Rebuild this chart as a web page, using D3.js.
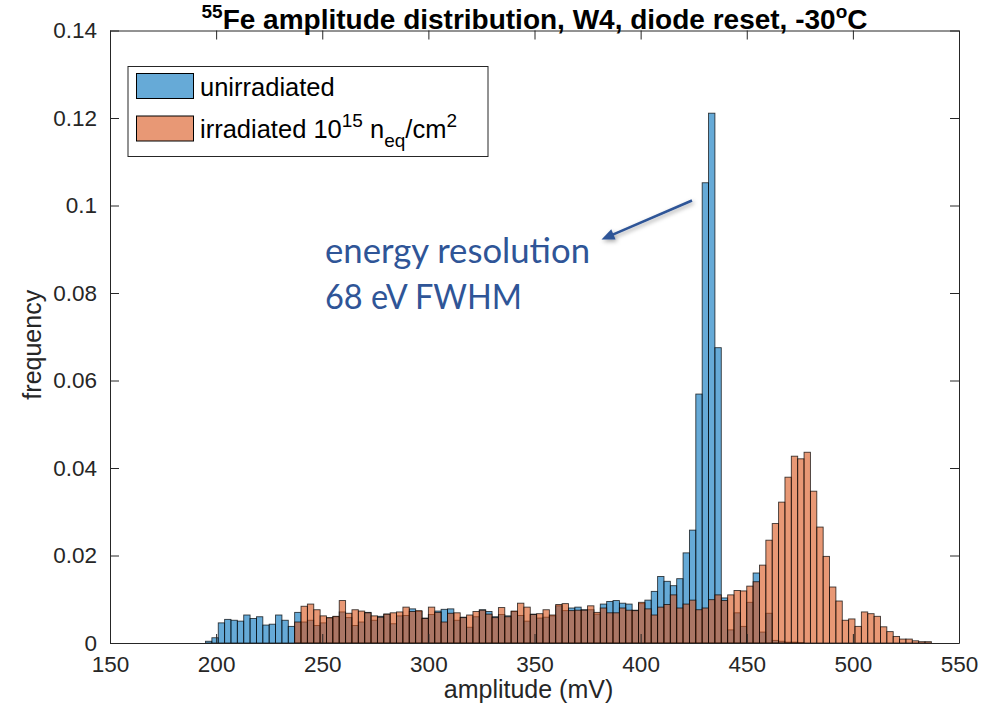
<!DOCTYPE html>
<html><head><meta charset="utf-8">
<script src="https://cdn.jsdelivr.net/npm/d3@7"></script>
<style>body{margin:0;background:#fff} svg{display:block}</style>
</head><body>
<svg id="c" width="998" height="717"></svg>
<script>
// ---- data ----
const binWidth = 3; // mV
const unirradiatedStart = 195; // mV, left edge of first bin
const unirradiated = [
  0.0004, 0.0012, 0.0046, 0.0054, 0.0052, 0.0050, 0.0064, 0.0056, 0.0060, 0.0041, 0.0043, 0.0064, 0.0052, 0.0038,
  0.0070, 0.0048, 0.0052, 0.0040, 0.0046, 0.0057, 0.0060, 0.0071, 0.0058, 0.0040,
  0.0048, 0.0070, 0.0052, 0.0061, 0.0066, 0.0044, 0.0062, 0.0063, 0.0078, 0.0072,
  0.0057, 0.0065, 0.0073, 0.0077, 0.0078, 0.0052, 0.0059, 0.0036, 0.0060, 0.0076,
  0.0072, 0.0060, 0.0065, 0.0062, 0.0072, 0.0063, 0.0050, 0.0066, 0.0057, 0.0059,
  0.0062, 0.0085, 0.0074, 0.0080, 0.0082, 0.0076, 0.0076, 0.0066, 0.0089, 0.0095,
  0.0097, 0.0091, 0.0089, 0.0075, 0.0090, 0.0098, 0.0118, 0.0152, 0.0141, 0.0131,
  0.0147, 0.0206, 0.0258, 0.0569, 0.1052, 0.1211, 0.0675, 0.0103, 0.0030, 0.0069,
  0.0038, 0.0093, 0.0160, 0.0025, 0.0068, 0.0006, 0.0004, 0.0002, 0.0002, 0.0001
];
const irradiatedStart = 237;
const irradiated = [
  0.0048, 0.0084, 0.0089, 0.0076, 0.0062, 0.0058, 0.0061, 0.0097, 0.0068, 0.0076,
  0.0073, 0.0069, 0.0062, 0.0059, 0.0066, 0.0069, 0.0071, 0.0082, 0.0072, 0.0074,
  0.0056, 0.0082, 0.0070, 0.0048, 0.0068, 0.0069, 0.0058, 0.0064, 0.0072, 0.0075,
  0.0066, 0.0058, 0.0081, 0.0060, 0.0073, 0.0091, 0.0082, 0.0065, 0.0067, 0.0076,
  0.0064, 0.0088, 0.0090, 0.0074, 0.0075, 0.0075, 0.0085, 0.0070, 0.0080, 0.0069,
  0.0069, 0.0080, 0.0075, 0.0074, 0.0093, 0.0078, 0.0064, 0.0082, 0.0088, 0.0110,
  0.0080, 0.0089, 0.0098, 0.0076, 0.0080, 0.0099, 0.0110, 0.0097, 0.0110, 0.0120,
  0.0119, 0.0130, 0.0140, 0.0178, 0.0235, 0.0273, 0.0322, 0.0379, 0.0427, 0.0421,
  0.0436, 0.0347, 0.0265, 0.0198, 0.0128, 0.0096, 0.0052, 0.0055, 0.0038, 0.0071,
  0.0067, 0.0061, 0.0037, 0.0026, 0.0015, 0.0009, 0.0009, 0.0005, 0.0003, 0.0003
];
const xDomain = [150, 550];
const yDomain = [0, 0.14];
const xTicks = [150, 200, 250, 300, 350, 400, 450, 500, 550];
const yTicks = [0, 0.02, 0.04, 0.06, 0.08, 0.1, 0.12, 0.14];
const yTickLabels = ["0", "0.02", "0.04", "0.06", "0.08", "0.1", "0.12", "0.14"];
const annotationLines = ["energy resolution", "68 eV FWHM"];

// ---- drawing ----
const svg = d3.select("#c");
const L = 110, R = 959, T = 30.5, B = 643;
const x = d3.scaleLinear().domain(xDomain).range([L, R]);
const y = d3.scaleLinear().domain(yDomain).range([B, T]);
const FONT = "'Liberation Sans', Arial, Helvetica, sans-serif";
const AX = "#262626";
const colBlue = "rgb(0,114,189)", colOrange = "rgb(217,83,25)";

svg.append("rect").attr("width", 998).attr("height", 717).attr("fill", "#fff");

function toBins(start, vals) {
  return vals.map((v, i) => ({ x0: start + i * binWidth, x1: start + (i + 1) * binWidth, v }));
}
const series = [
  { start: unirradiatedStart, vals: unirradiated, color: colBlue },
  { start: irradiatedStart, vals: irradiated, color: colOrange }
];
series.forEach(s => {
  svg.append("g").selectAll("rect").data(toBins(s.start, s.vals).filter(d => d.v > 0)).join("rect")
    .attr("x", d => x(d.x0)).attr("width", d => x(d.x1) - x(d.x0))
    .attr("y", d => y(d.v)).attr("height", d => y(0) - y(d.v))
    .attr("fill", s.color).attr("fill-opacity", 0.6)
    .attr("stroke", "#000").attr("stroke-opacity", 0.75).attr("stroke-width", 0.9);
});

// axes
function styleAxis(g) {
  g.selectAll(".domain").attr("stroke", AX).attr("stroke-width", 1);
  g.selectAll(".tick line").attr("stroke", AX).attr("stroke-width", 1);
  g.selectAll("text").attr("fill", AX).attr("font-family", FONT);
}
const gx = svg.append("g").attr("transform", `translate(0,${B})`)
  .call(d3.axisBottom(x).tickValues(xTicks).tickSizeInner(-9).tickSizeOuter(0).tickPadding(13).tickFormat(d3.format("d")));
gx.selectAll("text").attr("font-size", 22.5);
styleAxis(gx);
const gxt = svg.append("g").attr("transform", `translate(0,${T})`)
  .call(d3.axisTop(x).tickValues(xTicks).tickSizeInner(-9).tickSizeOuter(0).tickFormat(""));
styleAxis(gxt);
const gy = svg.append("g").attr("transform", `translate(${L},0)`)
  .call(d3.axisLeft(y).tickValues(yTicks).tickSizeInner(-9).tickSizeOuter(0).tickPadding(13).tickFormat((d, i) => yTickLabels[i]));
gy.selectAll("text").attr("font-size", 22.5);
styleAxis(gy);
const gyr = svg.append("g").attr("transform", `translate(${R},0)`)
  .call(d3.axisRight(y).tickValues(yTicks).tickSizeInner(-9).tickSizeOuter(0).tickFormat(""));
styleAxis(gyr);

// axis labels
svg.append("text").attr("x", (L + R) / 2 - 6).attr("y", 698).attr("text-anchor", "middle")
  .attr("font-family", FONT).attr("font-size", 25).attr("fill", AX).text("amplitude (mV)");
svg.append("text").attr("transform", `translate(41,${(T + B) / 2 + 8}) rotate(-90)`).attr("text-anchor", "middle")
  .attr("font-family", FONT).attr("font-size", 25).attr("fill", AX).text("frequency");

// title
const title = svg.append("text").attr("x", (L + R) / 2).attr("y", 29).attr("text-anchor", "middle")
  .attr("font-family", FONT).attr("font-size", 28).attr("font-weight", "bold").attr("fill", "#000");
title.append("tspan").attr("font-size", 19).attr("dy", -11).text("55");
title.append("tspan").attr("dy", 11).text("Fe amplitude distribution, W4, diode reset, -30");
title.append("tspan").attr("font-size", 19).attr("dy", -11).text("o");
title.append("tspan").attr("dy", 11).text("C");

// legend
const lg = svg.append("g");
lg.append("rect").attr("x", 128).attr("y", 66.5).attr("width", 360).attr("height", 90)
  .attr("fill", "#fff").attr("stroke", AX).attr("stroke-width", 1);
[[colBlue, 73.5], [colOrange, 116]].forEach(([c, yy]) => {
  lg.append("rect").attr("x", 136.5).attr("y", yy).attr("width", 57).attr("height", 25)
    .attr("fill", c).attr("fill-opacity", 0.6).attr("stroke", "#000").attr("stroke-width", 1);
});
lg.append("text").attr("x", 200).attr("y", 95.5).attr("font-family", FONT).attr("font-size", 25.5)
  .attr("fill", "#000").text("unirradiated");
const l2 = lg.append("text").attr("x", 200).attr("y", 137.5).attr("font-family", FONT).attr("font-size", 25.5).attr("fill", "#000");
l2.append("tspan").text("irradiated 10");
l2.append("tspan").attr("font-size", 19).attr("dy", -11).text("15");
l2.append("tspan").attr("dy", 11).text(" n");
l2.append("tspan").attr("font-size", 19).attr("dy", 9).text("eq");
l2.append("tspan").attr("dy", -9).text("/cm");
l2.append("tspan").attr("font-size", 19).attr("dy", -11).text("2");

// annotation
const ANN = "#2F5597";
const defs = svg.append("defs");
const f = defs.append("filter").attr("id", "sh").attr("x", "-20%").attr("y", "-50%").attr("width", "140%").attr("height", "200%");
f.append("feDropShadow").attr("dx", 1.5).attr("dy", 2).attr("stdDeviation", 2).attr("flood-color", "#000").attr("flood-opacity", 0.35);
const arrowG = svg.append("g").attr("filter", "url(#sh)");
const tip = [601.5, 239.5], tail = [692, 200.5];
const ang = Math.atan2(tip[1] - tail[1], tip[0] - tail[0]);
const hl = 13, hw = 5.5;
const base = [tip[0] - hl * Math.cos(ang), tip[1] - hl * Math.sin(ang)];
arrowG.append("line").attr("x1", tail[0]).attr("y1", tail[1]).attr("x2", base[0] + 2 * Math.cos(ang)).attr("y2", base[1] + 2 * Math.sin(ang))
  .attr("stroke", ANN).attr("stroke-width", 2.5);
arrowG.append("path").attr("d", `M${tip[0]},${tip[1]} L${base[0] - hw * Math.sin(ang)},${base[1] + hw * Math.cos(ang)} L${base[0] + hw * Math.sin(ang)},${base[1] - hw * Math.cos(ang)} Z`)
  .attr("fill", ANN);
annotationLines.forEach((t, i) => {
  svg.append("text").attr("x", 325).attr("y", i === 0 ? 263 : 309)
    .attr("font-family", "Lato, 'Open Sans', sans-serif").attr("font-size", 34).attr("fill", ANN)
    .attr("textLength", i === 0 ? 265 : 197).attr("lengthAdjust", "spacingAndGlyphs").text(t);
});
</script>
</body></html>
